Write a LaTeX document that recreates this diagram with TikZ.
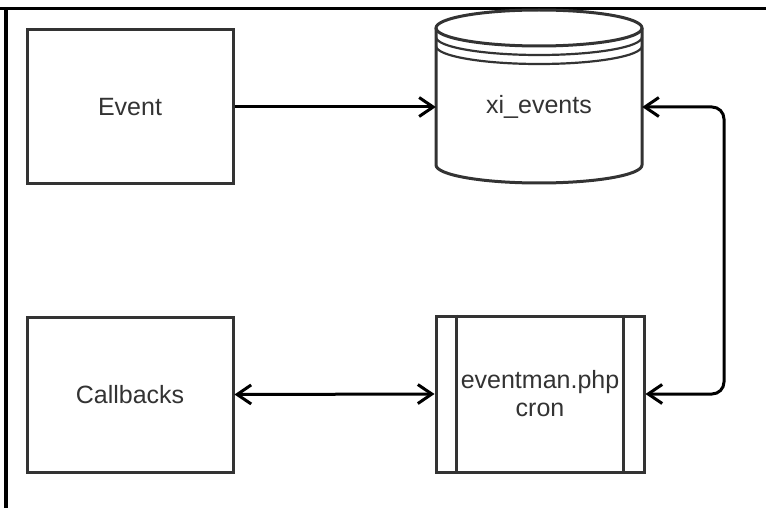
\documentclass[tikz,border=0pt]{standalone}
\usepackage{fontspec}
\setmainfont{Liberation Sans}
\usetikzlibrary{arrows.meta,positioning}
\definecolor{boxgray}{HTML}{333333}
\tikzset{
  >={Straight Barb[length=14pt,width=19pt]},
  line/.style     = {<-, line width=3pt, black},
  dline/.style    = {<->, line width=3pt, black},
  block/.style    = {rectangle, draw=boxgray, line width=3pt, fill=white, text=boxgray, align=center, minimum width=206pt, minimum height=154pt},
  procbox/.style  = {block, minimum width=208pt, minimum height=156pt},
  frame/.style    = {line width=3.5pt, black}
}

\begin{document}
\begin{tikzpicture}[x=1pt, y=-1pt, every node/.style={font=\fontsize{25}{28}\selectfont}]
\useasboundingbox (0,0) rectangle (766,508);

% frame
\draw[frame] (0,8.5) -- (766,8.5);
\draw[frame] (6,8.5) -- (6,508);

% database
\draw[line width=3pt, boxgray, fill=white]
  (436,28) -- (436,165) arc[start angle=180, end angle=0, x radius=103, y radius=18] -- (642,28);
\draw[line width=3pt, boxgray] (539,28) ellipse[x radius=103, y radius=18];
\draw[line width=2.2pt, boxgray] (436,37) arc[start angle=180, end angle=0, x radius=103, y radius=18];
\draw[line width=2.2pt, boxgray] (436,46) arc[start angle=180, end angle=0, x radius=103, y radius=18];
\node (xi) [text=boxgray, minimum width=206pt, minimum height=20pt, inner sep=0pt] at (539,107) {xi\_events};

% boxes
\node (event) [block] at (130,107) {Event};
\node (cb) [block, minimum height=155pt] at (130,394.5) {Callbacks};
\node (man) [procbox] at (540,394) {eventman.php\\cron};
\draw[line width=3pt, boxgray] ([xshift=22pt]man.north west) -- ([xshift=22pt]man.south west);
\draw[line width=3pt, boxgray] ([xshift=-22pt]man.north east) -- ([xshift=-22pt]man.south east);

% connections
\coordinate (bend) at (724,250);
\draw[line] (xi.west) -- (event.east);
\draw[dline] (cb.east) -- (man.west);
\draw[dline, rounded corners=12pt] (xi.east) -| (bend) |- (man.east);

\end{tikzpicture}
\end{document}
